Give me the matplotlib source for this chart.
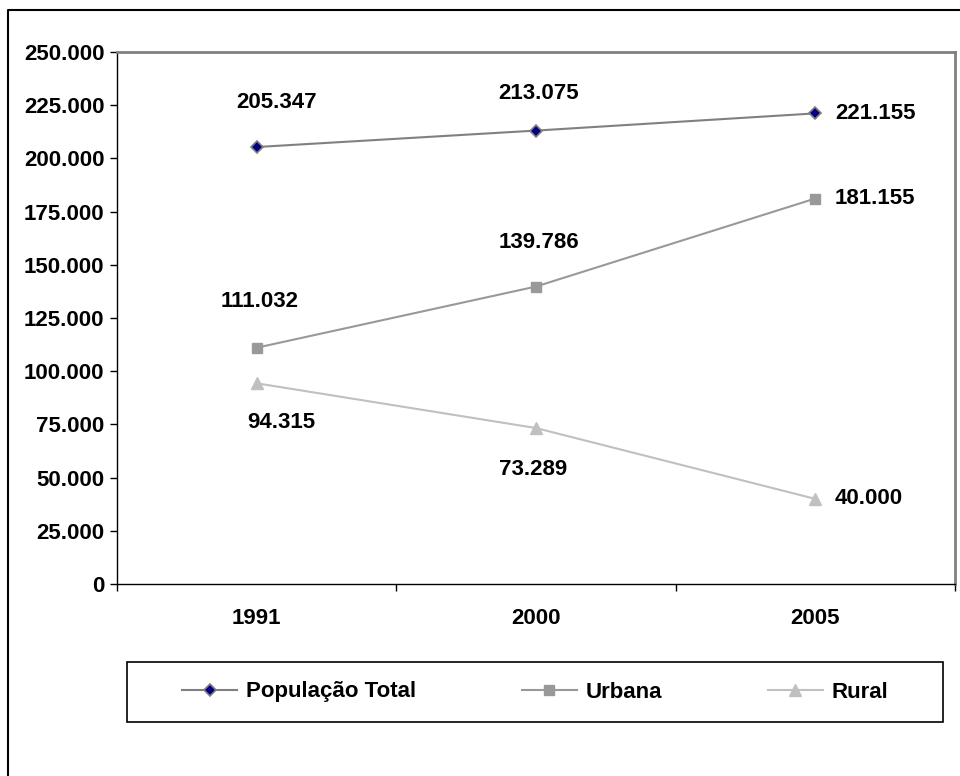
import matplotlib
matplotlib.use("Agg")
import matplotlib.pyplot as plt
from matplotlib.lines import Line2D
from matplotlib.patches import Rectangle
from matplotlib.ticker import FuncFormatter, MultipleLocator

plt.rcParams['font.family'] = ['Liberation Sans', 'DejaVu Sans']
plt.rcParams['font.weight'] = 'bold'

anos = ["1991", "2000", "2005"]
populacao_total = [205347, 213075, 221155]
urbana = [111032, 139786, 181155]
rural = [94315, 73289, 40000]

# label offsets (points) per series and year
off_total = [(14, 32), (2, 27), (14, 0)]
off_urbana = [(2, 33), (2, 32), (14, 0)]
off_rural = [(18, -28), (-2, -30), (14, 0)]

FS = 16


def fmt_br(v):
    return f"{int(v):,}".replace(",", ".")


fig = plt.figure(figsize=(9.6, 7.76), dpi=100)
ax = fig.add_axes([117 / 960, 1 - 584 / 776, (955 - 117) / 960, (584 - 52) / 776])

x = list(range(len(anos)))
series = [
    ("População Total", populacao_total, dict(color="#808080", marker="D", markersize=6,
                                               markerfacecolor="#000080", markeredgecolor="#808080",
                                               markeredgewidth=1.2), off_total),
    ("Urbana", urbana, dict(color="#999999", marker="s", markersize=7,
                            markerfacecolor="#999999", markeredgecolor="#999999"), off_urbana),
    ("Rural", rural, dict(color="#C0C0C0", marker="^", markersize=9,
                          markerfacecolor="#C0C0C0", markeredgecolor="#C0C0C0"), off_rural),
]

handles = []
for nome, vals, style, offs in series:
    ln, = ax.plot(x, vals, linewidth=1.5, label=nome, zorder=3, **style)
    handles.append(ln)
    for xi, v, (dx, dy) in zip(x, vals, offs):
        ha = "left" if xi == len(x) - 1 else "center"
        ax.annotate(fmt_br(v), (xi, v), xytext=(dx, dy), textcoords="offset points",
                    ha=ha, va="center", fontsize=FS, fontweight="bold", color="black")

ax.set_xlim(-0.5, len(anos) - 0.5)
ax.set_ylim(0, 250000)
ax.yaxis.set_major_locator(MultipleLocator(25000))
ax.yaxis.set_major_formatter(FuncFormatter(lambda v, p: fmt_br(v)))
ax.set_xticks(x)
ax.set_xticklabels(anos)
ax.set_xticks([i - 0.5 for i in range(len(anos) + 1)], minor=True)
ax.tick_params(axis="x", which="major", length=0, pad=17, labelsize=FS)
ax.tick_params(axis="x", which="minor", length=5, width=1, color="black", direction="out")
ax.tick_params(axis="y", length=5, width=1, direction="out", pad=4, labelsize=FS)

for s in ("top", "right"):
    ax.spines[s].set_color("#808080")
    ax.spines[s].set_linewidth(2)
for s in ("left", "bottom"):
    ax.spines[s].set_color("black")
    ax.spines[s].set_linewidth(1)

# legend box
fig.add_artist(Rectangle((127 / 960, 1 - 722 / 776), (943 - 127) / 960, 60 / 776,
                         transform=fig.transFigure, fill=False, edgecolor="black", linewidth=1.2))
leg = fig.legend(handles=handles, loc="center left",
                 bbox_to_anchor=(182 / 960, 1 - 692 / 776),
                 ncol=3, frameon=False,
                 prop=dict(size=FS, weight="bold"), handlelength=2.48, handletextpad=0.4,
                 columnspacing=4.75, borderaxespad=0, borderpad=0)

# outer chart frame
fig.add_artist(Line2D([8 / 960, 8 / 960, 1.0], [0.0, 1 - 10 / 776, 1 - 10 / 776],
                      transform=fig.transFigure, color="black", linewidth=1.5))

fig.savefig("out.png", dpi=100, facecolor="white")
